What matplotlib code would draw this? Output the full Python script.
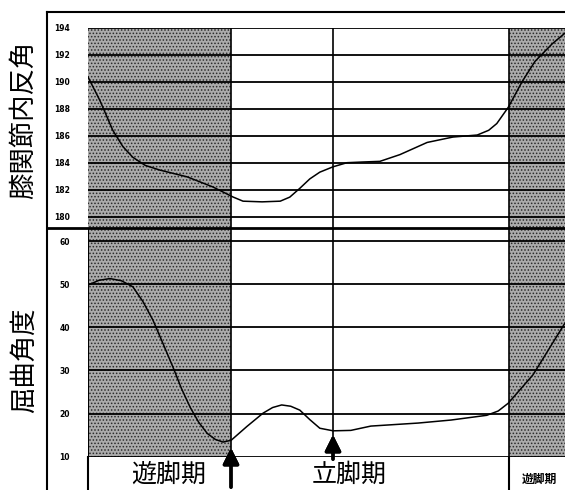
import numpy as np
import matplotlib
matplotlib.use('Agg')
import matplotlib.pyplot as plt
from matplotlib.lines import Line2D

plt.rcParams['font.family'] = ['Noto Sans CJK JP', 'DejaVu Sans']
plt.rcParams['hatch.color'] = '#2a2a2a'
plt.rcParams['hatch.linewidth'] = 0.7

# gait cycle (% of the drawn window)
x_top = [0, 2.5, 5.2, 7.3, 9.4, 12.0, 15.1, 20.8, 26.2, 30.4, 32.5, 36.5, 40.3,
         42.3, 44.4, 46.5, 48.6, 51.4, 54.3, 57.5, 61.2, 65.4, 71.1, 76.5, 81.6,
         84.0, 85.7, 88.1, 91.0, 93.7, 97.3, 100]
varus = [190.35, 188.6, 186.4, 185.2, 184.4, 183.8, 183.45, 182.95, 182.2, 181.46,
         181.15, 181.1, 181.15, 181.45, 182.1, 182.8, 183.3, 183.7, 184.0, 184.05,
         184.1, 184.6, 185.5, 185.9, 186.05, 186.4, 186.9, 188.1, 190.0, 191.5,
         192.8, 193.6]

x_bot = [0, 2.3, 4.6, 7.0, 9.4, 11.5, 13.6, 15.7, 17.8, 19.6, 21.4, 23.2, 25.0,
         26.7, 28.3, 30.0, 33.3, 36.7, 38.7, 40.6, 42.5, 44.4, 46.5, 48.6, 51.4,
         55.1, 59.3, 69.2, 76.1, 83.6, 86.0, 88.1, 93.3, 100]
flexion = [49.8, 50.9, 51.3, 50.8, 49.4, 46.0, 41.7, 36.3, 30.8, 25.8, 21.5, 18.0,
           15.4, 14.0, 13.4, 13.8, 17.0, 20.1, 21.4, 22.0, 21.7, 20.8, 18.6, 16.6,
           16.0, 16.1, 17.1, 17.8, 18.5, 19.6, 20.6, 22.4, 29.0, 41.0]

top_ticks = [180, 182, 184, 186, 188, 190, 192, 194]
bot_ticks = [10, 20, 30, 40, 50, 60]
swing_end = 30.0
mid_mark = 51.4
swing_start = 88.26

W, H = 565, 490
fig = plt.figure(figsize=(W / 100, H / 100), dpi=100)


def fx(px):
    return px / W


def fy(py):
    return 1 - py / H


def line(x0, y0, x1, y1, lw=1.5):
    fig.add_artist(Line2D([fx(x0), fx(x1)], [fy(y0), fy(y1)], color='black',
                          lw=lw, transform=fig.transFigure))


left, right = 88, 565
ax1 = fig.add_axes([fx(left), fy(227.7), fx(right) - fx(left), fy(27.7) - fy(227.7)])
ax2 = fig.add_axes([fx(left), fy(456.7), fx(right) - fx(left), fy(227.7) - fy(456.7)])

ax1.set_ylim(179.185, 194)
ax2.set_ylim(10, 63.1)

for ax, ticks in [(ax1, top_ticks), (ax2, bot_ticks)]:
    ax.set_xlim(0, 100)
    ax.axvspan(0, swing_end, facecolor='#ababab', hatch='.....', lw=0)
    ax.axvspan(swing_start, 100, facecolor='#ababab', hatch='.....', lw=0)
    for t in ticks:
        ax.axhline(t, color='black', lw=1.3)
    ax.axvline(swing_end, color='black', lw=1.2)
    ax.axvline(swing_start, color='black', lw=1.2)
    ax.set_yticks(ticks)
    ax.set_yticklabels([str(t) for t in ticks], fontsize=5.5, fontweight='bold',
                       family='DejaVu Sans')
    ax.tick_params(axis='y', length=0, pad=13)
    ax.set_xticks([])
    for s in ax.spines.values():
        s.set_visible(False)

ax1.axvline(mid_mark, color='black', lw=1.2)
ax2.axvline(mid_mark, color='black', lw=1.2)
ax1.plot(x_top, varus, color='black', lw=1.1)
ax2.plot(x_bot, flexion, color='black', lw=1.1)
ax2.axvline(0, color='black', lw=1.5)

# outer frame
line(47, 12, 565, 12, 1.5)
line(47, 12, 47, 490, 1.5)
line(47, 227.7, 565, 227.7, 2.0)
line(left, 456.7, left, 490, 1.5)
line(509, 456.7, 509, 490, 1.5)

# arrows
for xa, y_tip, y_tail in [(231, 445, 490), (333, 432, 462)]:
    fig.add_artist(plt.annotate('', xy=(fx(xa), fy(y_tip)), xytext=(fx(xa), fy(y_tail)),
                                xycoords='figure fraction', textcoords='figure fraction',
                                arrowprops=dict(arrowstyle='-|>', lw=2.4, color='black',
                                                mutation_scale=24)))

# labels
fig.text(fx(24), fy(120), '膝関節内反角', rotation=90, fontsize=19,
         ha='center', va='center')
fig.text(fx(24), fy(360), '屈曲角度', rotation=90, fontsize=19,
         ha='center', va='center')
fig.text(fx(169), fy(475), '遊脚期', fontsize=18, ha='center', va='center')
fig.text(fx(349), fy(475), '立脚期', fontsize=18, ha='center', va='center')
fig.text(fx(539), fy(479), '遊脚期', fontsize=8.5, fontweight='bold',
         ha='center', va='center')

fig.savefig('out.png', dpi=100, facecolor='white')
